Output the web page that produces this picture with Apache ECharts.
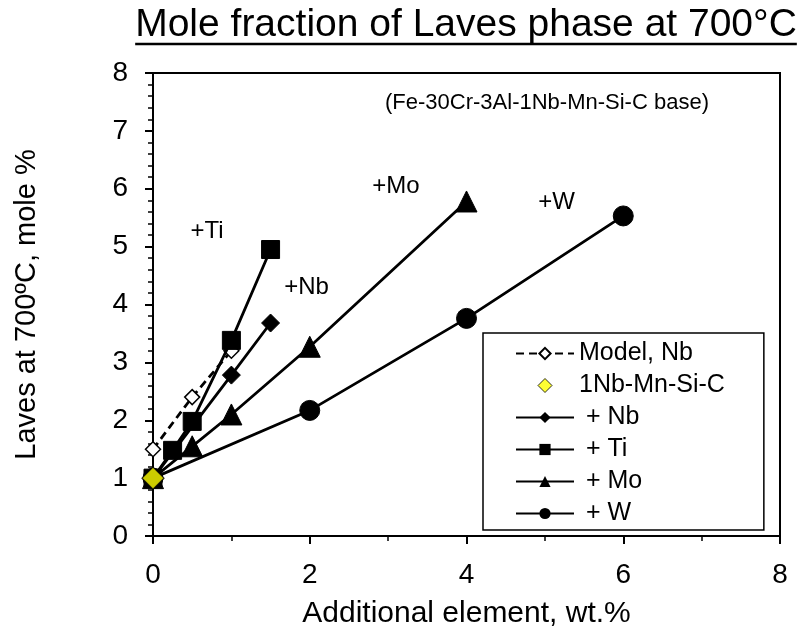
<!DOCTYPE html>
<html>
<head>
<meta charset="utf-8">
<script src="https://cdn.jsdelivr.net/npm/echarts@6/dist/echarts.min.js"></script>
<style>
html,body{margin:0;padding:0;background:#fff;}
#chart{width:805px;height:634px;}
</style>
</head>
<body>
<div id="chart"></div>
<script>
// ---- data ----
const titleText = 'Mole fraction of Laves phase at 700°C';
const xAxisTitle = 'Additional element, wt.%';
const yAxisTitle = 'Laves at 700ºC, mole %';
const baseNote = '(Fe-30Cr-3Al-1Nb-Mn-Si-C base)';

const modelNbX = [0, 0.5, 1];
const modelNbY = [1.5, 2.4, 3.2];
const baseX = [0];
const baseY = [1.0];
const nbX = [0, 1, 1.5];
const nbY = [1.0, 2.78, 3.68];
const tiX = [0, 0.25, 0.5, 1, 1.5];
const tiY = [1.0, 1.48, 1.98, 3.38, 4.95];
const moX = [0, 0.5, 1, 2, 4];
const moY = [1.0, 1.55, 2.1, 3.27, 5.78];
const wX = [0, 2, 4, 6];
const wY = [1.0, 2.17, 3.76, 5.53];

const seriesNames = ['Model, Nb', '1Nb-Mn-Si-C', ' + Nb', ' + Ti', ' + Mo', ' + W'];
const labelTexts = ['+Ti', '+Nb', '+Mo', '+W'];
const labelAt = [[0.69, 5.26], [1.96, 4.3], [3.1, 6.04], [5.15, 5.77]];

const xTicks = [0, 2, 4, 6, 8];
const yTicks = [0, 1, 2, 3, 4, 5, 6, 7, 8];

function zip(xs, ys) { return xs.map((x, i) => [x, ys[i]]); }

const FONT = 'Liberation Sans';
const chart = echarts.init(document.getElementById('chart'), null, {renderer: 'canvas'});

const LW = 2.8;
const lineBase = {
  type: 'line',
  showSymbol: true,
  lineStyle: {color: '#000', width: LW},
  itemStyle: {color: '#000', borderColor: '#000'},
  emphasis: {disabled: true},
  animation: false,
  z: 3
};

const option = {
  animation: false,
  backgroundColor: '#fff',
  textStyle: {fontFamily: FONT, color: '#000'},
  grid: {left: 153, right: 25, top: 73, bottom: 94, show: true, borderColor: '#000', borderWidth: 2, backgroundColor: 'transparent'},
  xAxis: {
    type: 'value', min: xTicks[0], max: xTicks[xTicks.length - 1], interval: 2,
    axisLine: {show: true, onZero: false, lineStyle: {color: '#000', width: 2}},
    axisTick: {show: true, length: 8, lineStyle: {color: '#000', width: 2}},
    minorTick: {show: true, splitNumber: 2, length: 5, lineStyle: {color: '#000', width: 1.5}},
    splitLine: {show: false},
    axisLabel: {fontSize: 28, color: '#000', fontFamily: FONT, margin: 25},
    name: xAxisTitle, nameLocation: 'middle', nameGap: 63,
    nameTextStyle: {fontSize: 30, color: '#000', fontFamily: FONT}
  },
  yAxis: {
    type: 'value', min: yTicks[0], max: yTicks[yTicks.length - 1], interval: 1,
    axisLine: {show: true, onZero: false, lineStyle: {color: '#000', width: 2}},
    axisTick: {show: true, length: 8, lineStyle: {color: '#000', width: 2}},
    minorTick: {show: true, splitNumber: 5, length: 5, lineStyle: {color: '#000', width: 1.5}},
    splitLine: {show: false},
    axisLabel: {fontSize: 28, color: '#000', fontFamily: FONT, margin: 25},
    name: yAxisTitle, nameLocation: 'middle', nameGap: 112,
    nameTextStyle: {fontSize: 29, color: '#000', fontFamily: FONT}
  },
  legend: {
    show: true, orient: 'vertical', left: 483, top: 333,
    padding: [8, 39, 4, 32],
    borderColor: '#000', borderWidth: 1.5, backgroundColor: '#fff',
    itemWidth: 58, itemHeight: 14, itemGap: 7,
    symbolKeepAspect: true,
    selectedMode: false,
    textStyle: {fontSize: 25, color: '#000', fontFamily: FONT},
    data: [
      {name: seriesNames[0]},
      {name: seriesNames[1], icon: 'path://M0,-10L10,0L0,10L-10,0Z', itemStyle: {borderWidth: 1}},
      {name: seriesNames[2]},
      {name: seriesNames[3]},
      {name: seriesNames[4]},
      {name: seriesNames[5]}
    ]
  },
  series: [
    Object.assign({}, lineBase, {
      name: seriesNames[0], data: zip(modelNbX, modelNbY), symbol: 'diamond', symbolSize: 15,
      lineStyle: {color: '#000', width: LW, type: [8, 5]},
      itemStyle: {color: '#fff', borderColor: '#000', borderWidth: 1.5}, z: 2
    }),
    Object.assign({}, lineBase, {name: seriesNames[2], data: zip(nbX, nbY), symbol: 'diamond', symbolSize: 18}),
    Object.assign({}, lineBase, {name: seriesNames[3], data: zip(tiX, tiY), symbol: 'rect', symbolSize: 18}),
    Object.assign({}, lineBase, {name: seriesNames[4], data: zip(moX, moY), symbol: 'triangle', symbolSize: 21}),
    Object.assign({}, lineBase, {name: seriesNames[5], data: zip(wX, wY), symbol: 'circle', symbolSize: 20}),
    {
      type: 'scatter', name: seriesNames[1], data: zip(baseX, baseY), symbol: 'diamond', symbolSize: 22,
      itemStyle: {color: '#ffff00', borderColor: '#000', borderWidth: 1.2}, z: 5, emphasis: {disabled: true}
    }
  ]
};
chart.setOption(option);

// text annotations placed through the chart's own coordinate system
const annot = labelAt.map((p, i) => {
  const px = chart.convertToPixel({gridIndex: 0}, p);
  return {
    type: 'text', x: px[0], y: px[1], z: 10,
    style: {text: labelTexts[i], font: '24px "Liberation Sans"', fill: '#000', align: 'center', verticalAlign: 'middle'}
  };
});

const TITLE_FONT = '39px "Liberation Sans"';
const ctx = document.createElement('canvas').getContext('2d');
ctx.font = TITLE_FONT;
const w = ctx.measureText(titleText).width;
const cx = 466;
chart.setOption({graphic: [
  {type: 'text', x: cx, y: 6, style: {text: titleText, font: TITLE_FONT, fill: '#000', align: 'center', verticalAlign: 'top'}, z: 10},
  {type: 'line', shape: {x1: cx - w / 2, y1: 44, x2: cx + w / 2, y2: 44}, style: {stroke: '#000', lineWidth: 2.5}, z: 10},
  {type: 'text', x: 385, y: 92, style: {text: baseNote, font: '22px "Liberation Sans"', fill: '#000'}, z: 10}
].concat(annot)});
</script>
</body>
</html>
